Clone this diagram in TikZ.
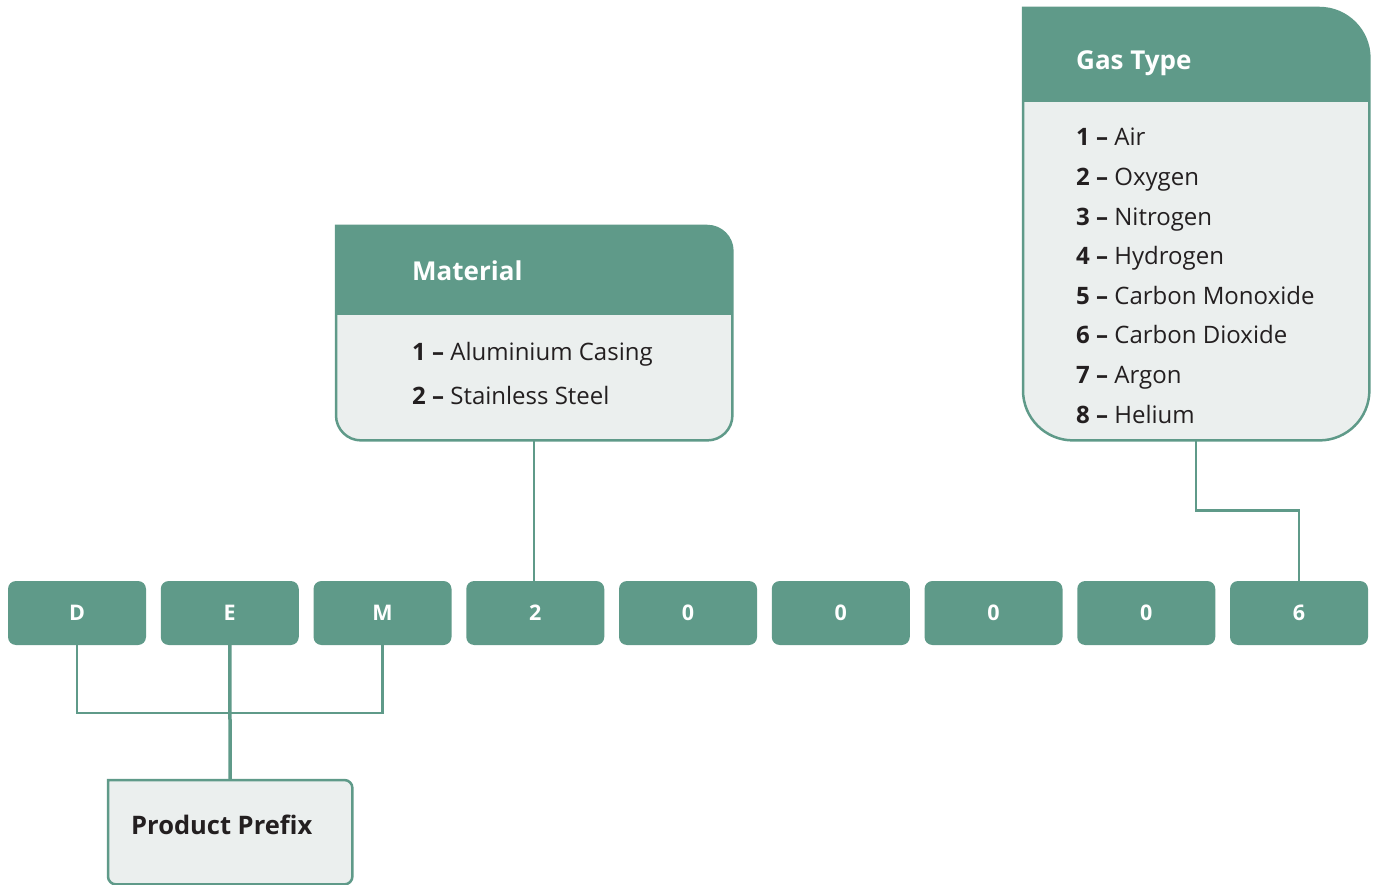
\documentclass[tikz,border=0pt]{standalone}
\usepackage{fontspec}
\setmainfont{Open Sans}
\usetikzlibrary{calc}
\definecolor{sage}{HTML}{5F9A89}
\definecolor{mist}{HTML}{EBEFEE}
\definecolor{ink}{HTML}{231F20}
\tikzset{
  codebox/.style={fill=sage, rounded corners=8pt, minimum width=138pt,
    minimum height=64pt, inner sep=0pt, text=white, text height=15.7pt,
    text depth=0pt, font=\fontsize{21.5}{26}\selectfont\bfseries},
  frame/.style={draw=none, inner sep=0pt, anchor=north west},
  conn/.style={draw=sage, line width=2.5pt},
  title/.style={anchor=base west, inner sep=0pt, text=white,
    font=\fontsize{26}{32}\selectfont\bfseries},
  item/.style={anchor=base west, inner sep=0pt, text=ink,
    font=\fontsize{24}{28}\selectfont},
}
\newcommand\num[1]{{\bfseries #1 –}}
\begin{document}
\begin{tikzpicture}[x=1pt, y=-1pt]
\useasboundingbox (0,0) rectangle (1377,885);

% code row
\foreach \i/\t in {0/D,1/E,2/M,3/2,4/0,5/0,6/0,7/0,8/6}
  \node[codebox] (c\i) at ({77+152.75*\i},613) {\t};

% Material box
\node[frame, minimum width=396pt, minimum height=214pt] (mat) at (336,226) {};
\fill[mist] (mat.north west) [rounded corners=25pt] -- (mat.north east)
  -- (mat.south east) -- (mat.south west) [rounded corners=0] -- cycle;
\fill[sage] (mat.north west) [rounded corners=25pt] -- (mat.north east)
  [rounded corners=0] -- ($(mat.north east)+(0,89)$) -- ($(mat.north west)+(0,89)$) -- cycle;
\draw[sage, line width=2.5pt] (mat.north west) [rounded corners=25pt] -- (mat.north east)
  -- (mat.south east) -- (mat.south west) [rounded corners=0] -- cycle;
\node[title] (matT) at (412,281) {Material};
\node[item] (mat1) at (412,361) {\num{1} Aluminium Casing};
\node[item] (mat2) at (412,404) {\num{2} Stainless Steel};

% Gas Type box
\node[frame, minimum width=346pt, minimum height=432pt] (gas) at (1023,8) {};
\fill[mist] (gas.north west) [rounded corners=50pt] -- (gas.north east)
  -- (gas.south east) -- (gas.south west) [rounded corners=0] -- cycle;
\fill[sage] (gas.north west) [rounded corners=50pt] -- (gas.north east)
  [rounded corners=0] -- ($(gas.north east)+(0,94)$) -- ($(gas.north west)+(0,94)$) -- cycle;
\draw[sage, line width=2.5pt] (gas.north west) [rounded corners=50pt] -- (gas.north east)
  -- (gas.south east) -- (gas.south west) [rounded corners=0] -- cycle;
\node[title] (gasT) at (1076,70) {Gas Type};
\foreach \k/\g [count=\j from 0] in {1/Air,2/Oxygen,3/Nitrogen,4/Hydrogen,
    5/Carbon Monoxide,6/Carbon Dioxide,7/Argon,8/Helium}
  \node[item] (gas\k) at (1076,{146+39.6*\j}) {\num{\k} \g};

% Product Prefix box
\node[frame, minimum width=244pt, minimum height=104pt] (pp) at (108,780) {};
\draw[sage, fill=mist, line width=2.5pt] (pp.north west) [rounded corners=8pt]
  -- (pp.north east) -- (pp.south east) -- (pp.south west) [rounded corners=0] -- cycle;
\node[anchor=base west, inner sep=0pt, text=ink, font=\fontsize{25.5}{30}\selectfont\bfseries]
  (ppT) at (131,834) {Product Prefix};

% connectors
\draw[conn] (c0.south) -- ++(0,68) -| (c2.south);
\draw[conn, line width=3.5pt] (c1.south) -- (pp.north);
\draw[conn] (mat.south) -- (mat.south |- c3.north);
\draw[conn] (gas.south) -- ++(0,70) -| (c8.north);
\end{tikzpicture}
\end{document}
